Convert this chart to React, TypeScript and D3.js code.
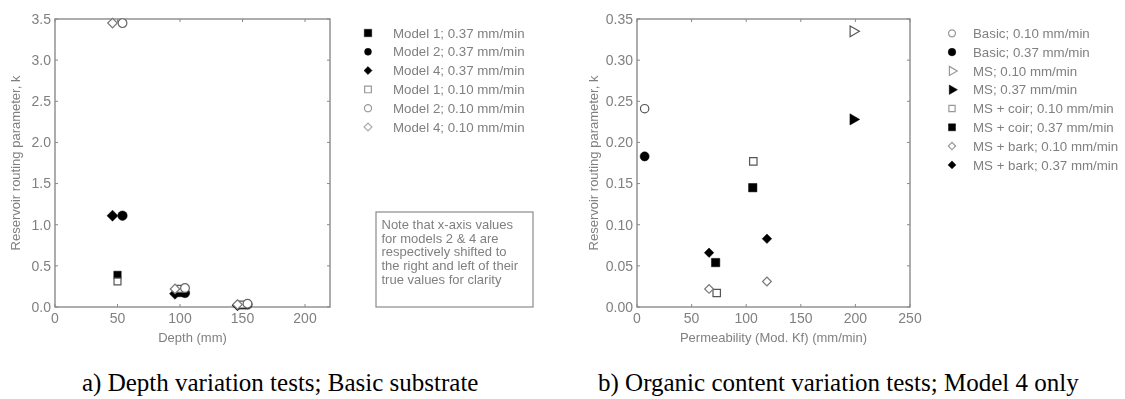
import React from "react";
import * as d3 from "d3";

// ---- Panel a: depth variation tests (basic substrate) ----
const depths = [50, 100, 150];
const model1Fast = [0.39, 0.17, 0.02]; // 0.37 mm/min
const model2Fast = [1.11, 0.17, 0.03];
const model4Fast = [1.11, 0.16, 0.02];
const model1Slow = [0.31, 0.22, 0.03]; // 0.10 mm/min
const model2Slow = [3.45, 0.23, 0.04];
const model4Slow = [3.45, 0.22, 0.03];
const depthTicks = [0, 50, 100, 150, 200];
const kTicksA = [0, 0.5, 1.0, 1.5, 2.0, 2.5, 3.0, 3.5];

const legendA = [
  "Model 1; 0.37 mm/min",
  "Model 2; 0.37 mm/min",
  "Model 4; 0.37 mm/min",
  "Model 1; 0.10 mm/min",
  "Model 2; 0.10 mm/min",
  "Model 4; 0.10 mm/min",
];
const noteLines = [
  "Note that x-axis values",
  "for models 2 & 4 are",
  "respectively shifted to",
  "the right and left of their",
  "true values for clarity",
];

// ---- Panel b: organic content variation tests (model 4) ----
const basicSlowX = [7];
const basicSlowY = [0.241];
const basicFastX = [7];
const basicFastY = [0.183];
const msSlowX = [198];
const msSlowY = [0.335];
const msFastX = [198];
const msFastY = [0.228];
const coirSlowX = [106.5, 73];
const coirSlowY = [0.177, 0.017];
const coirFastX = [106, 72];
const coirFastY = [0.145, 0.054];
const barkSlowX = [66, 119];
const barkSlowY = [0.022, 0.031];
const barkFastX = [66, 119];
const barkFastY = [0.066, 0.083];
const permTicks = [0, 50, 100, 150, 200, 250];
const kTicksB = [0, 0.05, 0.1, 0.15, 0.2, 0.25, 0.3, 0.35];

const legendB = [
  "Basic; 0.10 mm/min",
  "Basic; 0.37 mm/min",
  "MS; 0.10 mm/min",
  "MS; 0.37 mm/min",
  "MS + coir; 0.10 mm/min",
  "MS + coir; 0.37 mm/min",
  "MS + bark; 0.10 mm/min",
  "MS + bark; 0.37 mm/min",
];

const SANS = "'Liberation Sans', Arial, sans-serif";
const SERIF = "'Liberation Serif', 'Times New Roman', serif";
const AXIS = "#8a8a8a";
const TEXT = "#808080";

type Shape = "square" | "circle" | "diamond" | "triangle";
type Style = { shape: Shape; filled: boolean; size: number; stroke?: string };

function symbolPath(shape: Shape, size: number): string {
  // diamonds are drawn as squares turned by 45 degrees
  const type =
    shape === "square" || shape === "diamond"
      ? d3.symbolSquare
      : shape === "circle"
      ? d3.symbolCircle
      : d3.symbolTriangle;
  return d3.symbol().type(type).size(size)() || "";
}

function Marker({ x, y, st }: { x: number; y: number; st: Style }) {
  const rot =
    st.shape === "triangle" ? " rotate(90)" : st.shape === "diamond" ? " rotate(45)" : "";
  return (
    <path
      d={symbolPath(st.shape, st.size)}
      transform={`translate(${x},${y})${rot}`}
      fill={st.filled ? "#000" : "#fff"}
      stroke={st.filled ? "#000" : st.stroke || "#666"}
      strokeWidth={st.filled ? 0.5 : 1.2}
    />
  );
}

type FrameProps = {
  x: d3.ScaleLinear<number, number>;
  y: d3.ScaleLinear<number, number>;
  xTicks: number[];
  yTicks: number[];
  yFmt: (v: number) => string;
  xLabel: string;
  yLabelX: number;
};

function Frame({ x, y, xTicks, yTicks, yFmt, xLabel, yLabelX }: FrameProps) {
  const [x0, x1] = x.range();
  const [y0, y1] = y.range();
  const tk = 3;
  return (
    <g fontFamily={SANS}>
      <rect
        x={x0}
        y={y1}
        width={x1 - x0}
        height={y0 - y1}
        fill="none"
        stroke={AXIS}
        strokeWidth={1.4}
      />
      {xTicks.map((t) => (
        <g key={`x${t}`}>
          <line x1={x(t)} x2={x(t)} y1={y0} y2={y0 - tk} stroke={AXIS} />
          <line x1={x(t)} x2={x(t)} y1={y1} y2={y1 + tk} stroke={AXIS} />
          <text x={x(t)} y={323} textAnchor="middle" fontSize={14} fill={TEXT}>
            {t}
          </text>
        </g>
      ))}
      {yTicks.map((t) => (
        <g key={`y${t}`}>
          <line x1={x0} x2={x0 + tk} y1={y(t)} y2={y(t)} stroke={AXIS} />
          <line x1={x1} x2={x1 - tk} y1={y(t)} y2={y(t)} stroke={AXIS} />
          <text
            x={x0 - 4}
            y={y(t)}
            dy="0.35em"
            textAnchor="end"
            fontSize={14}
            fill={TEXT}
          >
            {yFmt(t)}
          </text>
        </g>
      ))}
      <text x={(x0 + x1) / 2} y={342} textAnchor="middle" fontSize={13} fill={TEXT}>
        {xLabel}
      </text>
      <text
        transform={`translate(${yLabelX},${(y0 + y1) / 2}) rotate(-90)`}
        textAnchor="middle"
        dy="0.35em"
        fontSize={13}
        fill={TEXT}
      >
        Reservoir routing parameter, k
      </text>
    </g>
  );
}

export default function App() {
  // panel a scales
  const xa = d3.scaleLinear().domain([0, 220]).range([55, 330]);
  const ya = d3.scaleLinear().domain([0, 3.5]).range([307, 19]);
  // panel b scales
  const xb = d3.scaleLinear().domain([0, 250]).range([637, 910]);
  const yb = d3.scaleLinear().domain([0, 0.35]).range([307, 19]);

  const shift = 4; // horizontal offset applied to models 2 and 4
  const seriesA: { vals: number[]; dx: number; st: Style; legendSt: Style }[] = [
    { vals: model1Fast, dx: 0, st: { shape: "square", filled: true, size: 55 }, legendSt: { shape: "square", filled: true, size: 55 } },
    { vals: model2Fast, dx: shift, st: { shape: "circle", filled: true, size: 70 }, legendSt: { shape: "circle", filled: true, size: 38 } },
    { vals: model4Fast, dx: -shift, st: { shape: "diamond", filled: true, size: 60 }, legendSt: { shape: "diamond", filled: true, size: 32 } },
    { vals: model1Slow, dx: 0, st: { shape: "square", filled: false, size: 48, stroke: "#555" }, legendSt: { shape: "square", filled: false, size: 45, stroke: "#999" } },
    { vals: model2Slow, dx: shift, st: { shape: "circle", filled: false, size: 60, stroke: "#666" }, legendSt: { shape: "circle", filled: false, size: 40, stroke: "#999" } },
    { vals: model4Slow, dx: -shift, st: { shape: "diamond", filled: false, size: 45, stroke: "#777" }, legendSt: { shape: "diamond", filled: false, size: 30, stroke: "#aaa" } },
  ];

  const seriesB: { xs: number[]; ys: number[]; st: Style }[] = [
    { xs: basicSlowX, ys: basicSlowY, st: { shape: "circle", filled: false, size: 55, stroke: "#555" } },
    { xs: basicFastX, ys: basicFastY, st: { shape: "circle", filled: true, size: 65 } },
    { xs: msSlowX, ys: msSlowY, st: { shape: "triangle", filled: false, size: 50, stroke: "#555" } },
    { xs: msFastX, ys: msFastY, st: { shape: "triangle", filled: true, size: 55 } },
    { xs: coirSlowX, ys: coirSlowY, st: { shape: "square", filled: false, size: 55, stroke: "#555" } },
    { xs: coirFastX, ys: coirFastY, st: { shape: "square", filled: true, size: 70 } },
    { xs: barkSlowX, ys: barkSlowY, st: { shape: "diamond", filled: false, size: 38, stroke: "#777" } },
    { xs: barkFastX, ys: barkFastY, st: { shape: "diamond", filled: true, size: 45 } },
  ];
  const legendBStyles: Style[] = seriesB.map((s) => ({
    ...s.st,
    size: s.st.size * 0.7,
    stroke: s.st.filled ? undefined : "#999",
  }));

  const rowA = (i: number) => 33 + i * 18.8;
  const rowB = (i: number) => 33.3 + i * 18.8;

  return (
    <svg
      width={1125}
      height={399}
      style={{ position: "absolute", left: 0, top: 0, display: "block", background: "#fff" }}
    >
      <defs>
        <filter id="soft" x="-5%" y="-5%" width="110%" height="110%">
          <feGaussianBlur stdDeviation={0.55} />
        </filter>
      </defs>
      <rect width={1125} height={399} fill="#fff" />

      <g filter="url(#soft)">
        {/* panel a */}
        <Frame
          x={xa}
          y={ya}
          xTicks={depthTicks}
          yTicks={kTicksA}
          yFmt={d3.format(".1f")}
          xLabel="Depth (mm)"
          yLabelX={15}
        />
        {seriesA.map((s, si) =>
          s.vals.map((v, i) => (
            <Marker key={`a${si}-${i}`} x={xa(depths[i] + s.dx)} y={ya(v)} st={s.st} />
          ))
        )}
        <g fontFamily={SANS} fontSize={13.3} fill={TEXT}>
          {legendA.map((t, i) => (
            <g key={t}>
              <Marker x={368} y={rowA(i)} st={seriesA[i].legendSt} />
              <text x={393} y={rowA(i)} dy="0.35em">
                {t}
              </text>
            </g>
          ))}
        </g>
        <rect x={376} y={212} width={157} height={95} fill="none" stroke={AXIS} strokeWidth={1.2} />
        <g fontFamily={SANS} fontSize={13} fill={TEXT}>
          {noteLines.map((t, i) => (
            <text key={t} x={381.5} y={229 + i * 13.7}>
              {t}
            </text>
          ))}
        </g>

        {/* panel b */}
        <Frame
          x={xb}
          y={yb}
          xTicks={permTicks}
          yTicks={kTicksB}
          yFmt={d3.format(".2f")}
          xLabel="Permeability (Mod. Kf) (mm/min)"
          yLabelX={593}
        />
        {seriesB.map((s, si) =>
          s.xs.map((xv, i) => (
            <Marker key={`b${si}-${i}`} x={xb(xv)} y={yb(s.ys[i])} st={s.st} />
          ))
        )}
        <g fontFamily={SANS} fontSize={13.3} fill={TEXT}>
          {legendB.map((t, i) => (
            <g key={t}>
              <Marker x={952} y={rowB(i)} st={legendBStyles[i]} />
              <text x={973} y={rowB(i)} dy="0.35em">
                {t}
              </text>
            </g>
          ))}
        </g>
      </g>

      {/* captions */}
      <g fontFamily={SERIF} fontSize={25} fill="#000">
        <text x={82} y={391}>
          a) Depth variation tests; Basic substrate
        </text>
        <text x={598} y={391}>
          b) Organic content variation tests; Model 4 only
        </text>
      </g>
    </svg>
  );
}
